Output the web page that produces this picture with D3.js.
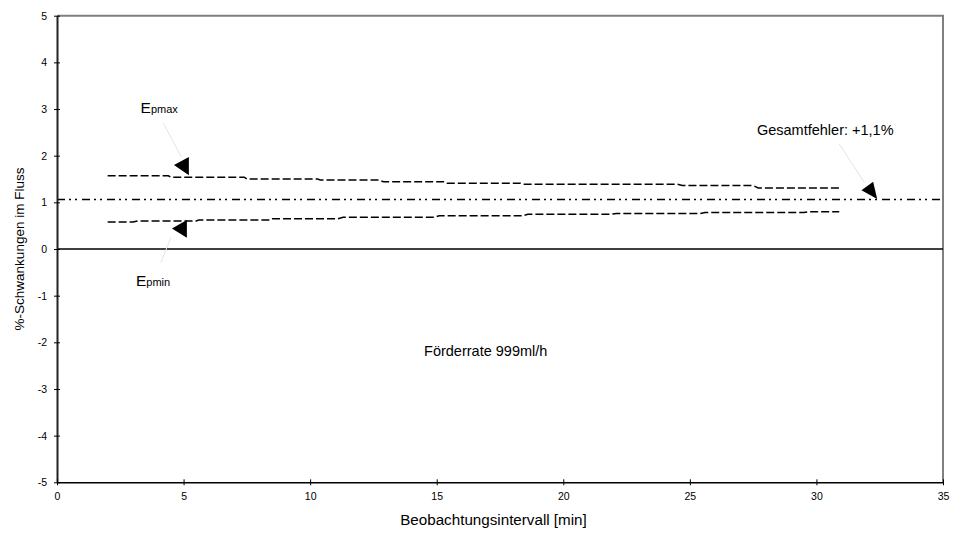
<!DOCTYPE html>
<html>
<head>
<meta charset="utf-8">
<script src="https://cdn.jsdelivr.net/npm/d3@7"></script>
<style>
  html, body { margin: 0; padding: 0; background: #fff; }
  svg { display: block; font-family: "Liberation Sans", Arial, sans-serif; }
</style>
</head>
<body>
<svg id="chart" width="959" height="534"></svg>
<script>
// Upper error bound (Epmax) in %, sampled along the observation interval [min]
const upperX = [2.0, 4.4, 4.5, 7.4, 7.5, 10.3, 10.4, 12.7, 12.9, 15.3, 15.4, 18.3, 18.4, 24.5, 24.7, 27.5, 27.7, 30.9];
const upperY = [1.57, 1.57, 1.54, 1.54, 1.50, 1.50, 1.48, 1.48, 1.44, 1.44, 1.41, 1.41, 1.39, 1.39, 1.36, 1.36, 1.31, 1.31];

// Lower error bound (Epmin) in %
const lowerX = [2.0, 3.0, 3.2, 5.5, 5.6, 8.4, 8.5, 11.1, 11.3, 14.9, 15.1, 18.4, 18.6, 21.9, 22.1, 25.4, 25.6, 29.5, 29.7, 30.9];
const lowerY = [0.58, 0.58, 0.60, 0.60, 0.62, 0.62, 0.65, 0.65, 0.68, 0.68, 0.71, 0.71, 0.745, 0.745, 0.76, 0.76, 0.78, 0.78, 0.80, 0.80];

// Total error level and zero reference
const totalError = 1.06;
const zeroLevel = 0;

// Axis ranges and ticks
const xDomain = [0, 35];
const yDomain = [-5, 5];
const xTicks = [0, 5, 10, 15, 20, 25, 30, 35];
const yTicks = [-5, -4, -3, -2, -1, 0, 1, 2, 3, 4, 5];

// Texts
const xTitle = "Beobachtungsintervall [min]";
const yTitle = "%-Schwankungen im Fluss";
const rateLabel = "Förderrate 999ml/h";
const totalLabel = "Gesamtfehler: +1,1%";

const svg = d3.select("#chart");
const W = 959, H = 534;
const m = { left: 57, right: 16, top: 15.7, bottom: 51.7 };

const x = d3.scaleLinear().domain(xDomain).range([m.left, W - m.right]);
const y = d3.scaleLinear().domain(yDomain).range([H - m.bottom, m.top]);

// Plain hyphen-minus tick labels
const plain = d => String(d);

// Plot frame (top and right borders in grey)
svg.append("path")
  .attr("d", `M${x(0)},${y(5)} H${x(35)} V${y(-5)}`)
  .attr("fill", "none").attr("stroke", "#808080").attr("stroke-width", 2);

// Zero reference line
svg.append("line")
  .attr("x1", x(0)).attr("x2", x(35))
  .attr("y1", y(zeroLevel)).attr("y2", y(zeroLevel))
  .attr("stroke", "#000").attr("stroke-width", 1.6);

// Total error line (dash-dot-dot)
svg.append("line")
  .attr("x1", x(0)).attr("x2", x(35))
  .attr("y1", y(totalError)).attr("y2", y(totalError))
  .attr("stroke", "#000").attr("stroke-width", 1.4)
  .attr("stroke-dasharray", "8,4,2,4,2,5");

// Upper and lower bounds (long dashes)
const line = d3.line().x(d => x(d[0])).y(d => y(d[1]));
const upper = upperX.map((v, i) => [v, upperY[i]]);
const lower = lowerX.map((v, i) => [v, lowerY[i]]);
[upper, lower].forEach(series => {
  svg.append("path")
    .datum(series)
    .attr("d", line)
    .attr("fill", "none")
    .attr("stroke", "#000")
    .attr("stroke-width", 1.5)
    .attr("stroke-dasharray", "8,3");
});

// Y axis with cross ticks
const yAxis = svg.append("g")
  .attr("transform", `translate(${x(0)},0)`)
  .call(d3.axisLeft(y).tickValues(yTicks).tickFormat(plain).tickSizeInner(3).tickSizeOuter(0).tickPadding(7));
yAxis.select(".domain").attr("stroke", "#222").attr("stroke-width", 2);
yAxis.selectAll(".tick line").attr("x1", 3).attr("x2", -3).attr("stroke", "#000");
yAxis.selectAll(".tick text")
  .attr("font-size", 10.5).attr("fill", "#000")
  .attr("font-family", "Liberation Sans, Arial, sans-serif");

// X axis at the bottom with cross ticks
const xAxis = svg.append("g")
  .attr("transform", `translate(0,${y(-5)})`)
  .call(d3.axisBottom(x).tickValues(xTicks).tickFormat(plain).tickSizeInner(3).tickSizeOuter(0).tickPadding(7));
xAxis.select(".domain").attr("stroke", "#000").attr("stroke-width", 1.6);
xAxis.selectAll(".tick line").attr("y1", -3).attr("y2", 3).attr("stroke", "#000");
xAxis.selectAll(".tick text")
  .attr("font-size", 10.5).attr("fill", "#000")
  .attr("font-family", "Liberation Sans, Arial, sans-serif");

// Axis titles
svg.append("text")
  .attr("x", 493.5).attr("y", 525)
  .attr("text-anchor", "middle").attr("font-size", 15.2).text(xTitle);
svg.append("text")
  .attr("transform", `translate(24,${y(0)}) rotate(-90)`)
  .attr("text-anchor", "middle").attr("font-size", 13.5).text(yTitle);

// Annotation labels
function subLabel(px, py, main, sub) {
  const t = svg.append("text").attr("x", px).attr("y", py).attr("font-size", 15.5);
  t.append("tspan").text(main);
  t.append("tspan").attr("font-size", 11).text(sub);
}
subLabel(x(3.3), y(2.91), "E", "pmax");
subLabel(x(3.12), y(-0.79), "E", "pmin");

svg.append("text")
  .attr("x", x(27.65)).attr("y", y(2.45))
  .attr("font-size", 14.5).text(totalLabel);
svg.append("text")
  .attr("x", x(14.5)).attr("y", y(-2.3))
  .attr("font-size", 14.5).text(rateLabel);

// Leader lines from labels to the arrowheads
const leaders = [
  [[4.2, 2.7], [4.9, 1.98]],
  [[4.1, -0.3], [4.5, 0.25]],
  [[30.9, 2.25], [31.9, 1.42]]
];
leaders.forEach(([a, b]) => {
  svg.append("line")
    .attr("x1", x(a[0])).attr("y1", y(a[1]))
    .attr("x2", x(b[0])).attr("y2", y(b[1]))
    .attr("stroke", "#e4e4e4").attr("stroke-width", 1);
});

// Arrowheads (filled triangles)
const arrows = [
  [[4.62, 1.80], [5.21, 1.97], [5.21, 1.58]],
  [[4.54, 0.44], [5.13, 0.62], [5.13, 0.24]],
  [[31.78, 1.26], [32.24, 1.44], [32.40, 1.07]]
];
arrows.forEach(pts => {
  svg.append("polygon")
    .attr("points", pts.map(p => `${x(p[0])},${y(p[1])}`).join(" "))
    .attr("fill", "#000");
});
</script>
</body>
</html>
